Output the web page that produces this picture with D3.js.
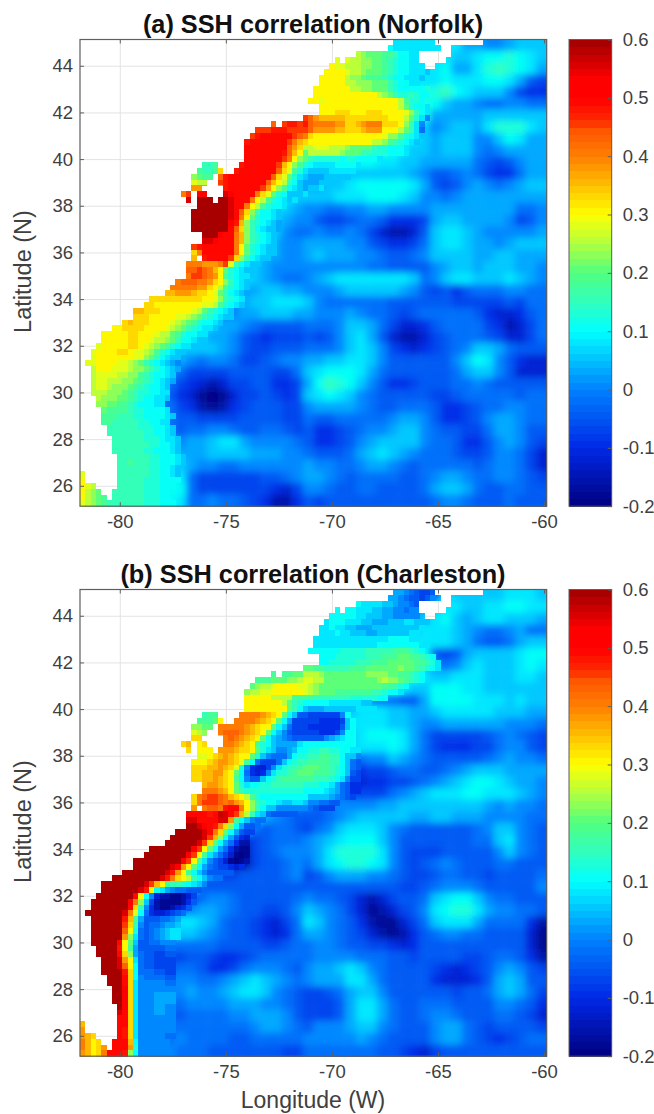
<!DOCTYPE html>
<html>
<head>
<meta charset="utf-8">
<script src="https://cdn.jsdelivr.net/npm/d3@7"></script>
<style>
    html, body { margin: 0; padding: 0; background: #fff; }
    text { font-family: "Liberation Sans", Arial, sans-serif; }
</style>
</head>
<body>
<script>
var lonTicks = [-80, -75, -70, -65, -60];
var latTicks = [26, 28, 30, 32, 34, 36, 38, 40, 42, 44];
var barTicks = [-0.2, -0.1, 0, 0.1, 0.2, 0.3, 0.4, 0.5, 0.6];
var barLabels = ["-0.2", "-0.1", "0", "0.1", "0.2", "0.3", "0.4", "0.5", "0.6"];
var titles = ["(a) SSH correlation (Norfolk)", "(b) SSH correlation (Charleston)"];

// one char per value, 0 = -0.2 ... W = 0.6, steps of 0.025
var levelChars = "0123456789ABCDEFGHIJKLMNOPQRSTUVW";

var colorStops = [-0.2, -0.1, 0, 0.05, 0.1, 0.15, 0.2, 0.25, 0.3, 0.35, 0.4, 0.45, 0.46, 0.5, 0.53, 0.6];
var colorValues = ["#00007f", "#0028e6", "#0080ff", "#00c0ff", "#00ffff", "#30ffc0", "#50ff80", "#b0ff40",
    "#ffff00", "#ffc000", "#ff8000", "#ff5000", "#ff2a00", "#ff0000", "#ff0000", "#a00000"];

// ocean columns per 0.25 deg row (pairs of first, last), same mask in both maps
var oceanRows = [
    [59,66,76,87],[58,67,70,87],[52,63,70,87],[48,48,50,63,69,87],[47,64,67,87],[46,87],[45,87],[45,87],
    [44,87],[44,87],[43,87],[45,87],[45,87],[42,87],[36,36,38,87],[33,87],[32,87],[31,87],[31,87],[31,87],
    [31,87],[23,25,30,87],[22,26,29,87],[21,24,26,87],[21,23,26,87],[21,22,27,87],[19,20,22,23,27,87],
    [20,20,22,24,26,87],[22,87],[21,87],[21,87],[21,87],[21,87],[23,87],[23,87],[21,87],[21,87],
    [21,21,23,87],[20,87],[20,87],[20,87],[18,87],[17,87],[16,87],[13,87],[12,87],[10,87],[10,87],[8,87],
    [6,87],[4,87],[4,87],[3,87],[2,87],[2,87],[1,87],[2,87],[2,87],[2,87],[2,87],[2,87],[3,87],[3,87],
    [4,87],[4,87],[4,87],[5,87],[5,87],[6,87],[6,87],[6,87],[7,87],[7,87],[7,87],[0,0,7,87],[0,0,7,87],
    [0,2,7,87],[0,3,6,87],[0,4,6,87],[0,87]
];

// 0.5 deg field, rows from the north, right aligned to the east edge
var fieldA = [
    "BBBBBBB99889AAA",
    "GFFCBBBBBAABCCDCBA",
    "JIHGEDBBBBC99BDEDCB9",
    "KKJHGECBBBBCBBBCCB965",
    "KKKKKHFEDDCDECBAAA8544",
    "KKKKKKKKJGDCA998778877",
    "OMLLLLLLLKID99999AAAAAA",
    "PMLMLMONKHDA89AA9BDDDBA",
    "KKKLKKJHFDBA9AAA88ACB99",
    "HHHHGFEDCBAA9AAA8789999",
    "CCCDCCCBBAA999997656899",
    "A99AAAAAAA9866787544799",
    "99AABCCCCCB9656898789AA",
    "SMGCBAAAABBBCCCBA887899999999",
    "OECBA988778899888899999999778",
    "RHCBA988655677644459AA99998568",
    "OFCBA87787787532236ABBA9888889",
    "MEBA98899998865445" + "7ABBA9989AAA",
    "JDB99889A999887667" + "8AAAA99AA999",
    "PFCA9888888888776666" + "89AA9AAA998",
    "OQOKDBA9877" + "89ABBBBBBBA78ABBAAABA98",
    "LLLKCBA99AA99" + "8889AAAAA98656467778877",
    "KKKKICA989AABBB" + "A8777777666666555556577",
    "KKJHFDB98899AAA9" + "98889877656777776433467",
    "LKIFDCCBA99876666" + "7778AA97533467777542357",
    "KLLIECBAAA998654555" + "6568AB96322356777653357",
    "KLKJFCBAAAAA98655666" + "7778ABA854345678AA97666",
    "KKJHEB99987887556788" + "99AABBA86666668ACB86433",
    "IIGDCA98755556666557" + "ABCCCB9766666679AA86333",
    "IHECB877543235566445" + "9CEDCA86445666778766666",
    "HGDC9876431013556545" + "ABCBA876666655677777677",
    "EDCA987542124566655" + "89999876677764456778877",
    "EDCA97665555666655" + "76677777899864456899877",
    "EDCB87677887667765" + "644567889AA876655799866",
    "EDCA8899ABB988887" + "6445689AAAA877644689865",
    "EDCB9999AAAA99988" + "766679ABA98777655688753",
    "EEDCBA98877888888" + "98877899876777776788753",
    "EEDCCB75555556678" + "99876777766789987788765",
    "FEEDCCC75555555435" + "8876677666679AA97667766",
    "IFEEDDCCCB77877654224" + "65666666666678876667666"
];

var fieldB = [
    "98656BAAAAABBBA",
    "CBA8789ABBAABBCCBB",
    "CBAAA889ABCA9ABBAAA9",
    "CBA99AAAABBBA98778977",
    "BBBBBBBCCBBBBA976679AA",
    "BCCDDEEFFEC6569AAAABCC",
    "FEEEFGGGFEDA878ABAAABCB",
    "HHGGGGGHEDCBAABBBAAABBA",
    "FEDDDCCCCBAACCCBBAAAAAA",
    "BAAAA9877669CCCCBBBABAA",
    "5446ABBBAA99ABBBBBAAA99",
    "3335BBBBAA9889999998887",
    "6668ABCCCB9755555678765",
    "NHEB976" + "CCCAABBBCB9754445578865",
    "MGCBABD" + "FECA7788A98766666789887",
    "LE34BDE" + "ECA7545567766789AAA9999",
    "JD5BDEE" + "C9864344556789ABCCBA998",
    "KKEDEDC" + "A8775555789ABBBCCBBBA98",
    "SLDBBA8" + "767888899AAAAAAAA989887",
    "USKC9876" + "66789AAAAA99AA999888877",
    "WWWSKB76776" + "578ABBBA8766666678AA876",
    "WWWWWB6356777" + "89ABCCCA8666666677AB876",
    "WWWWWWC62156788" + "89BDDDDB86555666668A876",
    "WWWWWWC841156678" + "79BCDDCB865678766677666",
    "WWWWWWD7655666678" + "56899988765567766566667",
    "WWWWQJEDC6666666666" + "66666666655678887666668",
    "WWWWK211247887666667" + "877653235667ABCCA877666",
    "WWWRB336789987665568" + "A98753123568BCDDB988776",
    "WWWN8579BBA976654357" + "BA8764211357ABBB9777742",
    "WWTG6679AA9876654347" + "99876532124678877666631",
    "WWLD6677777766665567" + "78876655434666666666631",
    "WKC6655566544567777" + "78888777665666655677642",
    "NB6766776445788876" + "899ABA87666654345689865",
    "RA7888887789ABA987" + "8999BB9766664333469A966",
    "SA788889889ABBA876" + "55679AA866666656679A975",
    "UA7777788889998876" + "55569BB9766777666688764",
    "UA7776677778899986" + "55569BB9766788766677653",
    "TA8877777777789987" + "68889AA8766689976566665",
    "KA8887877776677777" + "88888987666689976545677",
    "LNRQ97888777666666655" + "77777776654356666666666"
];

// 0.25 deg cells along the coast, each row starts at its first ocean column
var coastA = [
    "BBBBBBBB",
    "CBBBBBBBB",
    "IHGGGFFECCBB",
    "JJJIIHHGGFEDCCBB",
    "KJJIIIHHGGFEDCCBBB",
    "KKKKJIIHGGGFEDCCBBBA",
    "KKKKKIHHGFFFEDCCBBBA",
    "KKKKKIIHHHGGGEDCCBB",
    "KKKKKKKIIHHGGGEDCCCCCD",
    "KKKKKKKKKKKKIHGEDDEDCC",
    "KKJKKKKKKKKKKKKKKIFDDC",
    "KKKKKKKKKKKKKKKIGDCCB",
    "KKKLLLKKKLLLKKKKJHECB",
    "QPNMMMMMLLLLLLLLKKKIGDB8",
    "PPQRRQRPOOOONNLLMNOOOLLLKHEB8",
    "QQQRRRQQQQPNNNNMMLLLMNNNKKKIGEB7",
    "QRSSSSSSQPOLKKKKKKKKKKKKKJHHFDCBA",
    "RSSSSSSSQOMLKKKKKKKKKKKKIIHFEDCBA",
    "SSSSSSSSPNLIIJJJIIIHGGGGEDDCCCB",
    "SSSSSSSRPMKGIIIIIIHGGGEEDDDCCCB",
    "SSSSSSSQOKHGEDDDDDCDDCCCCB",
    "EEFLLLLRSSSSSSQMKHFDCBBBBCCCCB",
    "FEEFLLLRSSSSSSSPLJFDBAAAABBBBB",
    "HGFFFPRSSSSSSSSPLJGDBA999AAAAA",
    "JIIIIQRSSSSSSSPMKIECA999AAA",
    "NNNNNNRSSSSSSQNKHFCBA9AAB",
    "OQQTTTTTUTSSSSOLJGDCAAAB",
    "UUWWWWWWUSSSOKIFDCBAB",
    "WWWWWWUSSOKIFDCCB",
    "WWWWWWWUSPLHECCBA",
    "WWWWWWWUSOKGDCCBA",
    "WWWWWWWTRMHEDCBA9",
    "WWWWWWWSPLHECBAA9",
    "WWWTSSOMHEDCBA",
    "UUTSSSOMHEDCBA",
    "QRSSSSSSOKGDCBAA",
    "LOSSSSSSOKGDCBAA",
    "MMRSSSSQLHECBAA",
    "OOONNNOQJECBAA",
    "PPQPOMKGDCBAA",
    "OQQPONKFDCBBA",
    "OPPPOONLKHECBA",
    "OOOOONNLKIFDCBA",
    "MMNNNMLLKJGECBA9",
    "LLLLLLLLLLKKJHEDCB",
    "LLKKKKKKKKKJJIFDCBA",
    "MMLLLKKKKKKJIGEDCBA",
    "LLLKKKKKJJIHGEDCBAA",
    "LMLLLKKKKJIHGFDCCBA",
    "KKLLLLKKKKJIHGEDCBBA",
    "KKKKKLLKKKJIIGFDCCBB",
    "KKKKKLLKKJIIHGECCBAA",
    "JKKKKKLLKJIHGFDCBBA",
    "JKKKKLLKJJIHFDCBAA",
    "JKKKKKKKJJHGECBAA9",
    "JJKKKKJJIHGEDCBA98",
    "IKKKJJJIHHGEDCBA9",
    "IJJJJIIHHFEDCCBA",
    "IJJIIIHHGFEDCBA9",
    "IJJIHHHGFEDCCBA",
    "IIIHHHGFEDDCCBB",
    "IHHHGGFEDCCBBA",
    "HHGGFFEDCCCBB",
    "GFFFFEDDCCCCB",
    "FFFEEEDDCCCCBA",
    "FFEEEEEDDCCBB",
    "EEEEEEDDDCCBA",
    "EEEEEEEDDCCBA",
    "EEEEEEDDDCBBA",
    "EEEEEEEDDCCBA",
    "EEEEEEDDCCCBA",
    "EEEEEEDDCCCBA",
    "EEFEEEDDCCCBA",
    "EEEEEEDDCCBA",
    "JEEEEEEEEEEEEDDCCBA",
    "KEEEEEEEEEEEDDDCCCC",
    "KJIEEEEEEEEEDDDCCC",
    "KIHGEEEEEEEEDDDCC",
    "KIHGFEEEEEEEDDDCC",
    "JIHGFEEEEEEEDDDCCC"
];

var coastB = [
    "99876556",
    "998766568",
    "CBBBBAA98876",
    "CCCCBBBAA9988788",
    "CCCCCBBAAA9988888",
    "BCCCBBBAA999AAABBAAA",
    "BBCBBAA999AAAAAAAAAB",
    "BBBCBBAAA99AAAAAABB",
    "BBBBBBBBBBBBBBCCCCBB",
    "BBBBBBBBBBBBCCCCCCCCBB",
    "CCCCCCDDDDDEEEEEFFFEDC",
    "CCCDDDDDDEEEFFFGGFFEDC",
    "CCDDDDDEEEFFFGGGGGFFEDB",
    "GGFFEEEEEFFFGGGGGGHGGFEDCB",
    "FFFFGGIIIHGGGGGGGGHHHHGGFFEDC",
    "FFFGGGHHIJJIIGGGGGGGGGGHIHHGFEDC",
    "GHIIJKKKKJJIHGGGGGGGGGGGGFFEDC",
    "HIIJJKKKKKKJIHGGGFFFFFFFEEDCCB",
    "KKKKKIIIIFFFFEEEEEEEDDDDDCC",
    "KKKKKKKIGEDCCCCCBBBBBBAA",
    "KKKKKKKKGECA999AAAAAABBBB",
    "EFFLLLLOOOONMLKGCA665555558C",
    "FFFGKLLOOOONMLKGC95555544445AC",
    "HHGGGOOOOONMLKKGCA75554444446AC",
    "JIHHHOPPPONMLKGCA86555554445" + "8CC",
    "LLLLLLOPONMLKGCA987666666" + "89ABCC",
    "LMMKLMMMOONMLKFDCA9999BCCCCCCCCCC",
    "LLKKKKNNNMLLKGDBA889ACCDDEEDDCCBB",
    "JJKLMNMLKKGDA87779CDDEEFFEECAA8",
    "KKKLMNNMLJFC75557ACDEEFFFFEECA76",
    "LLLMMNMLJD843358BDEEFGGGFFEDCA76",
    "LLMMNNLKGC74348BDDEFGGGFFFEDCA65",
    "LLMMNMLKFC866ACDEFFFFFFEEEDCB855",
    "MNNMLKGDBCCDDEEEEEEDDDCCB97644",
    "OOONMKGEDDDDDDDDDDDCCCCBA97644",
    "LOPQQPOMLKIFDCCCCCCCCCAAAA98765",
    "LOQQQPOPNMKHEDCCBAABBA887766",
    "NNOPPORSSOKHECAA88888876555",
    "SSSSRSVUSQMIEBA766666",
    "UUSSSSUUNFCA877",
    "WWUTSROLHC9667",
    "WWWWWUSOLGC9655",
    "WWWWWWUQMHC9643",
    "WWWWWWUQLGC97422",
    "WWWWWWWWTQKGC974211",
    "WWWWWWWWTQKFB9753101",
    "WWWWWWWWWTQKFB86531012",
    "WWWWWWWUTNKGC97655434",
    "WWWWWWWWURNKFCA866666",
    "WWWWWWWWWUROLKIECA877",
    "WWWWWWWWUQMKFEEDCBA866",
    "WWWWWWWURKCB9877666",
    "WWWWWWWSKC832211235",
    "WWWWWWWTOHA521111246",
    "WWWWWWWSLE842112346",
    "WWWWWWWUOJC74334567",
    "WWWWWWRMF96667789",
    "WWWWWWQLE8677899A",
    "WWWWWWPKD76789ABB",
    "WWWWWWNHB76789ABB",
    "WWWWWSKGA6677888",
    "WWWWRKF96666677",
    "WWWWSLH97665566",
    "WWWUNKB7665555",
    "WWWUPKC7665555",
    "WWWWRLC7776655",
    "WWWSLC8777766",
    "WWWSLB8888877",
    "WWTLB8888888",
    "WWTLB8889999",
    "WWTLB8889999",
    "WTLB8889988",
    "USLB8889988",
    "SSLB8888888",
    "MSSSSSSSSLB8888888",
    "NSSSSSSSRLB8888888",
    "NMLSSSSSRLB8888877",
    "OMKLSSSSSMC888888",
    "OMKLNSSSSND888888",
    "NMKLOSSSRHC888888"
];

var width = 654, height = 1114;
var plotLeft = 80, plotRight = 546.7, plotHeight = 466.7;
var barLeft = 569, barRight = 611.7;
var nLevels = 64;

var svg = d3.select("body").append("svg")
    .attr("width", width)
    .attr("height", height)
    .style("display", "block");

var defs = svg.append("defs");

defs.append("filter")
    .attr("id", "soft")
    .attr("filterUnits", "userSpaceOnUse")
    .attr("x", plotLeft - 40)
    .attr("y", 0)
    .attr("width", plotRight - plotLeft + 100)
    .attr("height", height)
    .append("feGaussianBlur")
    .attr("stdDeviation", 3.6);

var colorScale = d3.scaleLinear().domain(colorStops).range(colorValues).clamp(true);

function levelColor(v) {
    var k = Math.min(nLevels - 1, Math.floor((v + 0.2) / 0.8 * nLevels));
    return colorScale(-0.2 + (k + 0.5) * 0.8 / nLevels);
}

function charValue(c) {
    return -0.2 + levelChars.indexOf(c) * 0.025;
}

function drawMap(index, top, field, coast) {
    var x = d3.scaleLinear().domain([-81.875, -59.875]).range([plotLeft, plotRight]);
    var y = d3.scaleLinear().domain([25.125, 45.125]).range([top + plotHeight, top]);
    var g = svg.append("g");

    function colEdge(c) { return x(-81.875 + 0.25 * c); }
    function rowEdge(r) { return y(45.125 - 0.25 * r); }

    // grid sits under the cells, shows on land only
    g.append("g")
        .attr("transform", "translate(0," + (top + plotHeight) + ")")
        .call(d3.axisBottom(x).tickValues(lonTicks).tickSize(-plotHeight).tickFormat(""))
        .call(function(a) { a.select(".domain").remove(); })
        .selectAll("line").attr("stroke", "#e3e3e3");
    g.append("g")
        .attr("transform", "translate(" + plotLeft + ",0)")
        .call(d3.axisLeft(y).tickValues(latTicks).tickSize(-(plotRight - plotLeft)).tickFormat(""))
        .call(function(a) { a.select(".domain").remove(); })
        .selectAll("line").attr("stroke", "#e3e3e3");

    var spans = [];
    oceanRows.forEach(function(row, r) {
        for (var i = 0; i < row.length; i += 2) {
            spans.push({r: r, c0: row[i], c1: row[i + 1]});
        }
    });

    var clipId = "ocean" + index;
    defs.append("clipPath").attr("id", clipId)
        .selectAll("rect")
        .data(spans)
        .enter().append("rect")
        .attr("x", function(d) { return colEdge(d.c0); })
        .attr("y", function(d) { return rowEdge(d.r); })
        .attr("width", function(d) { return colEdge(d.c1 + 1) - colEdge(d.c0); })
        .attr("height", function(d) { return rowEdge(d.r + 1) - rowEdge(d.r) + 0.3; })
        .attr("shape-rendering", "crispEdges");

    var ocean = g.append("g").attr("clip-path", "url(#" + clipId + ")");

    var coarse = [];
    field.forEach(function(row, r) {
        var first = 44 - row.length;
        row.split("").forEach(function(ch, i) {
            coarse.push({r: r, c: first + i, v: charValue(ch)});
        });
    });

    ocean.append("g")
        .attr("filter", "url(#soft)")
        .selectAll("rect")
        .data(coarse)
        .enter().append("rect")
        .attr("x", function(d) { return colEdge(d.c * 2); })
        .attr("y", function(d) { return rowEdge(d.r * 2) - (d.r === 0 ? 20 : 0); })
        .attr("width", function(d) { return colEdge(d.c * 2 + 2) - colEdge(d.c * 2) + (d.c === 43 ? 20 : 0.4); })
        .attr("height", function(d) { return rowEdge(d.r * 2 + 2) - rowEdge(d.r * 2) + (d.r === 39 ? 20 : 0) + (d.r === 0 ? 20 : 0.4); })
        .attr("fill", function(d) { return levelColor(d.v); });

    var cells = [];
    coast.forEach(function(row, r) {
        var first = oceanRows[r][0];
        row.split("").forEach(function(ch, i) {
            cells.push({r: r, c: first + i, v: charValue(ch)});
        });
    });

    ocean.append("g")
        .attr("shape-rendering", "crispEdges")
        .selectAll("rect")
        .data(cells)
        .enter().append("rect")
        .attr("x", function(d) { return colEdge(d.c); })
        .attr("y", function(d) { return rowEdge(d.r); })
        .attr("width", function(d) { return colEdge(d.c + 1) - colEdge(d.c) + 0.3; })
        .attr("height", function(d) { return rowEdge(d.r + 1) - rowEdge(d.r) + 0.3; })
        .attr("fill", function(d) { return levelColor(d.v); });

    g.append("rect")
        .attr("x", plotLeft).attr("y", top)
        .attr("width", plotRight - plotLeft).attr("height", plotHeight)
        .attr("fill", "none").attr("stroke", "#5f5f5f").attr("stroke-width", 1.2);

    var xAxis = g.append("g")
        .attr("transform", "translate(0," + (top + plotHeight) + ")")
        .call(d3.axisBottom(x).tickValues(lonTicks).tickSizeInner(-4).tickSizeOuter(0).tickPadding(9).tickFormat(function(d) { return String(d); }));
    var yAxis = g.append("g")
        .attr("transform", "translate(" + plotLeft + ",0)")
        .call(d3.axisLeft(y).tickValues(latTicks).tickSizeInner(-4).tickSizeOuter(0).tickPadding(7).tickFormat(function(d) { return String(d); }));
    g.append("g")
        .attr("transform", "translate(0," + top + ")")
        .call(d3.axisTop(x).tickValues(lonTicks).tickSizeInner(-4).tickSizeOuter(0).tickFormat(""))
        .call(function(a) { a.select(".domain").remove(); })
        .selectAll("line").attr("stroke", "#5f5f5f");

    [xAxis, yAxis].forEach(function(a) {
        a.select(".domain").remove();
        a.selectAll("line").attr("stroke", "#5f5f5f");
        a.selectAll("text")
            .attr("fill", "#404040")
            .style("font-family", '"Liberation Sans", Arial, sans-serif')
            .style("font-size", "18.5px");
    });

    g.append("text")
        .attr("x", 313)
        .attr("y", top - 6.5)
        .attr("text-anchor", "middle")
        .attr("fill", "#111")
        .style("font-size", "25.3px")
        .style("font-weight", "bold")
        .text(titles[index]);

    g.append("text")
        .attr("transform", "translate(31," + (top + 232) + ") rotate(-90)")
        .attr("text-anchor", "middle")
        .attr("fill", "#404040")
        .style("font-size", "23.5px")
        .text("Latitude (N)");

    // colorbar
    var bar = d3.scaleLinear().domain([-0.2, 0.6]).range([top + plotHeight, top]);
    var steps = d3.range(nLevels);
    g.append("g")
        .attr("shape-rendering", "crispEdges")
        .selectAll("rect")
        .data(steps)
        .enter().append("rect")
        .attr("x", barLeft)
        .attr("width", barRight - barLeft)
        .attr("y", function(k) { return bar(-0.2 + (k + 1) * 0.8 / nLevels); })
        .attr("height", function(k) { return bar(-0.2 + k * 0.8 / nLevels) - bar(-0.2 + (k + 1) * 0.8 / nLevels) + 0.5; })
        .attr("fill", function(k) { return levelColor(-0.2 + (k + 0.5) * 0.8 / nLevels); });

    g.append("rect")
        .attr("x", barLeft).attr("y", top)
        .attr("width", barRight - barLeft).attr("height", plotHeight)
        .attr("fill", "none").attr("stroke", "#5f5f5f").attr("stroke-width", 1);

    var barAxis = g.append("g")
        .attr("transform", "translate(" + barRight + ",0)")
        .call(d3.axisRight(bar).tickValues(barTicks).tickSizeInner(-4).tickSizeOuter(0).tickPadding(11)
            .tickFormat(function(d, i) { return barLabels[i]; }));
    barAxis.select(".domain").remove();
    barAxis.selectAll("line").attr("stroke", "#5f5f5f");
    barAxis.selectAll("text")
        .attr("fill", "#404040")
        .style("font-family", '"Liberation Sans", Arial, sans-serif')
        .style("font-size", "18.5px");
}

drawMap(0, 39.5, fieldA, coastA);
drawMap(1, 589.5, fieldB, coastB);

svg.append("text")
    .attr("x", 313)
    .attr("y", 1108)
    .attr("text-anchor", "middle")
    .attr("fill", "#404040")
    .style("font-size", "23px")
    .text("Longitude (W)");
</script>
</body>
</html>
